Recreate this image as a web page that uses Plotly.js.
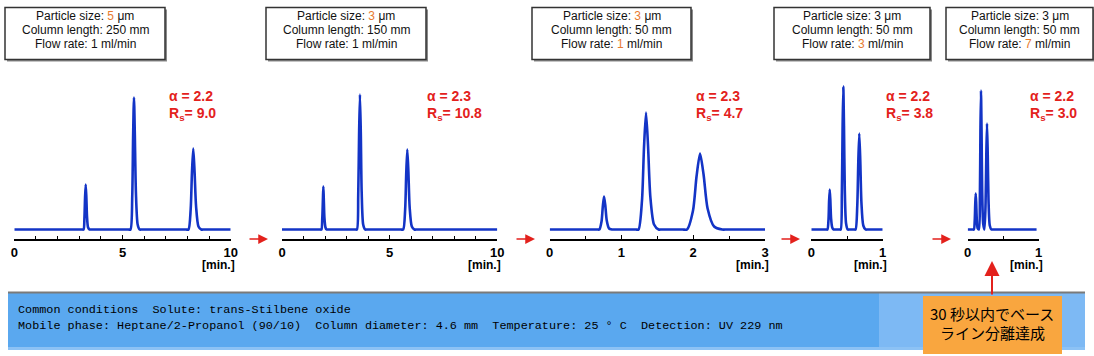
<!DOCTYPE html>
<html><head><meta charset="utf-8">
<script src="https://cdn.plot.ly/plotly-3.0.1.min.js"></script>
<style>html,body{margin:0;padding:0;background:#fff}#chart{width:1094px;height:356px}</style>
</head><body><div id="chart"></div>
<script>
// ---- data (time in min, signal in arbitrary units) ----
const t1 = [0, 3.12,3.20,3.24,3.27,3.30,3.33,3.36,3.41,3.48,3.56, 5.27,5.37,5.45,5.49,5.53,5.57,5.62,5.70,5.79,5.90, 7.93,8.05,8.15,8.21,8.27,8.33,8.40,8.51,8.64,8.78, 10];
const y1 = [0, 0,0,11,32,45,32,13,2,0,0, 0,0,33,92,132,95,37,5,0,0, 0,0,20,57,81,58,23,3,0,0, 0];
const t2 = [0, 1.76,1.83,1.87,1.90,1.92,1.94,1.97,2.02,2.07,2.14, 3.39,3.48,3.54,3.58,3.62,3.66,3.70,3.77,3.86,3.96, 5.52,5.63,5.72,5.77,5.82,5.87,5.93,6.03,6.15,6.28, 10];
const y2 = [0, 0,0,11,30,43,31,12,2,0,0, 0,0,34,95,135,97,38,5,0,0, 0,0,20,56,80,58,22,3,0,0, 0];
const t3 = [0, 0.66,0.692,0.722,0.740,0.757,0.775,0.795,0.827,0.867,0.90, 1.20,1.238,1.286,1.314,1.342,1.370,1.402,1.454,1.518,1.56, 1.85,1.913,1.997,2.046,2.095,2.144,2.200,2.291,2.403,2.47, 3];
const y3 = [0, 0,0,8,23,33,24,9,1,0,0, 0,0,29,82,117,84,33,5,0,0, 0,0,19,53,76,55,21,3,0,0, 0];
const t4 = [0, 0.21,0.226,0.241,0.249,0.258,0.267,0.277,0.293,0.313,0.33, 0.395,0.412,0.428,0.438,0.448,0.458,0.469,0.487,0.510,0.53, 0.60,0.620,0.644,0.658,0.672,0.686,0.702,0.728,0.760,0.785, 1];
const y4 = [0, 0,0,10,28,40,29,11,2,0,0, 0,0,36,100,143,103,40,6,0,0, 0,0,24,67,96,69,27,4,0,0, 0];
const t5 = [0, 0.07,0.087,0.099,0.106,0.113,0.120,0.128,0.141, 0.158,0.172,0.179,0.187,0.195,0.204,0.218, 0.236,0.252,0.262,0.272,0.282,0.293,0.311,0.334,0.355, 0.97];
const y5 = [0, 0,0,9,25,36,26,10,1, 0,35,97,139,100,39,6, 0,27,74,106,76,30,4,0,0, 0];

const xMax = [10, 10, 3, 1, 1];
const majorTicks = [[0,5,10],[0,5,10],[0,1,2,3],[0,1],[0,1]];
const minorStep = [1, 1, 0.5, 0.5, 0.5];
const particleSize = ['5','3','3','3','3'];
const columnLength = ['250','150','50','50','50'];
const flowRate = ['1','1','1','3','7'];
const particleHighlight = [true, true, true, false, false];
const flowHighlight = [false, false, true, true, true];
const alphaVals = ['2.2','2.3','2.3','2.2','2.2'];
const rsVals = ['9.0','10.8','4.7','3.8','3.0'];
const unitLabel = '[min.]';
const commonLine1 = 'Common conditions  Solute: trans-Stilbene oxide';
const commonLine2 = 'Mobile phase: Heptane/2-Propanol (90/10)  Column diameter: 4.6 mm  Temperature: 25 ° C  Detection: UV 229 nm';
const noteLines = ['30 秒以内でベース', 'ライン分離達成'];

// ---- geometry (pixels) ----
const W = 1094, H = 356;
const px = x => x / W, py = y => 1 - y / H;
const axisPx = [[14.3,230.7],[282,497.3],[549.7,765],[811.3,882.7],[967.7,1038.7]];
const plotTop = 80, plotBottom = 239;
const boxPx = [[5,165],[266,426],[532,691],[774,930],[946,1093]];
const statX = [167, 425, 694, 884, 1028];
const arrowTips = [268, 535, 800, 951];

const SANS = 'Liberation Sans, Arial, sans-serif';
const LINE = '#1334c6', RED = '#e3211c', ORANGE = '#e87b2f';

const ts = [t1,t2,t3,t4,t5], ys = [y1,y2,y3,y4,y5];
const traces = [], shapes = [], annotations = [];
const layout = {
  width: W, height: H, margin: {l:0, r:0, t:0, b:0},
  paper_bgcolor: '#fff', plot_bgcolor: 'rgba(0,0,0,0)', showlegend: false
};

for (let i = 0; i < 5; i++) {
  const sx = i === 0 ? '' : String(i + 1);
  traces.push({x: ts[i], y: ys[i], xaxis: 'x' + sx, yaxis: 'y' + sx, type: 'scatter', mode: 'lines',
    line: {color: LINE, width: 2.6, shape: 'spline', smoothing: 0.7}, hoverinfo: 'skip'});
  layout['xaxis' + sx] = {
    domain: [px(axisPx[i][0]), px(axisPx[i][1])], range: [0, xMax[i]], anchor: 'y' + sx,
    showline: true, linecolor: '#000', linewidth: 1.5, showgrid: false, zeroline: false,
    tickvals: majorTicks[i], ticktext: majorTicks[i].map(String), ticks: 'inside', ticklen: 4,
    tickwidth: 1, tickcolor: '#000', ticklabelstandoff: 1,
    minor: {dtick: minorStep[i], tick0: 0, ticks: 'inside', ticklen: 3, tickcolor: '#000', tickwidth: 1, showgrid: false},
    tickfont: {family: SANS, size: 13, color: '#000', weight: 'bold'}, fixedrange: true
  };
  layout['yaxis' + sx] = {
    domain: [py(plotBottom), py(plotTop)], range: [-9.5, 149.5], anchor: 'x' + sx,
    visible: false, fixedrange: true
  };
  annotations.push({xref:'paper', yref:'paper', x: px(axisPx[i][1] + 6), y: py(265), xanchor:'right', yanchor:'middle',
    text: unitLabel, showarrow:false, font:{family:SANS, size:12, color:'#000', weight:'bold'}});
  annotations.push({xref:'paper', yref:'paper', x: px(statX[i]), y: py(96), xanchor:'left', yanchor:'middle',
    text: 'α = ' + alphaVals[i], showarrow:false, font:{family:SANS, size:14, color:RED, weight:'bold'}});
  annotations.push({xref:'paper', yref:'paper', x: px(statX[i]), y: py(114), xanchor:'left', yanchor:'middle',
    text: 'R<sub>s</sub>= ' + rsVals[i], showarrow:false, font:{family:SANS, size:14, color:RED, weight:'bold'}});
  const [bl, br] = boxPx[i];
  shapes.push({type:'rect', xref:'paper', yref:'paper', x0:px(bl+2), x1:px(br+2), y0:py(61.5), y1:py(9.5),
    fillcolor:'#8a8a8a', line:{width:0}});
  shapes.push({type:'rect', xref:'paper', yref:'paper', x0:px(bl), x1:px(br), y0:py(59.5), y1:py(7.5),
    fillcolor:'#fff', line:{color:'#333', width:1.5}});
  const cx = px((bl + br) / 2);
  const hl = v => '<span style="color:' + ORANGE + '">' + v + '</span>';
  const lines = [
    'Particle size: ' + (particleHighlight[i] ? hl(particleSize[i]) : particleSize[i]) + ' μm',
    'Column length: ' + columnLength[i] + ' mm',
    'Flow rate: ' + (flowHighlight[i] ? hl(flowRate[i]) : flowRate[i]) + ' ml/min'
  ];
  const ly = [16, 30, 43.8];
  lines.forEach((s, k) => annotations.push({xref:'paper', yref:'paper', x: cx, y: py(ly[k]), xanchor:'center', yanchor:'middle',
    text: s, showarrow:false, font:{family:SANS, size:12, color:'#111'}}));
}

arrowTips.forEach(x => annotations.push({xref:'paper', yref:'paper', x: px(x), y: py(239), ax: -20, ay: 0,
  text:'', showarrow:true, arrowhead:2, arrowsize:1.3, arrowwidth:1.5, arrowcolor:RED, standoff:0}));

shapes.push({type:'rect', xref:'paper', yref:'paper', x0:px(8), x1:px(1085), y0:py(350), y1:py(292),
  fillcolor:'#5aa8ef', line:{width:0}});
shapes.push({type:'rect', xref:'paper', yref:'paper', x0:px(879), x1:px(1085), y0:py(350), y1:py(292),
  fillcolor:'#7db9f4', line:{width:0}});
shapes.push({type:'rect', xref:'paper', yref:'paper', x0:px(8), x1:px(1085), y0:py(350), y1:py(347),
  fillcolor:'#8cc2f5', line:{width:0}});
shapes.push({type:'line', xref:'paper', yref:'paper', x0:px(8), x1:px(1085), y0:py(292.5), y1:py(292.5),
  line:{color:'#7a7a7a', width:2}});
shapes.push({type:'rect', xref:'paper', yref:'paper', x0:px(923), x1:px(1062), y0:py(354), y1:py(296),
  fillcolor:'#f9a63f', line:{width:0}});

const MONO = 'Liberation Mono, DejaVu Sans Mono, monospace';
annotations.push({xref:'paper', yref:'paper', x: px(16), y: py(309.8), xanchor:'left', yanchor:'middle',
  text: commonLine1, showarrow:false, font:{family:MONO, size:11.8, color:'#000'}});
annotations.push({xref:'paper', yref:'paper', x: px(16), y: py(325.6), xanchor:'left', yanchor:'middle',
  text: commonLine2, showarrow:false, font:{family:MONO, size:11.8, color:'#000'}});
const noteY = [313.6, 332];
noteLines.forEach((s, k) => annotations.push({xref:'paper', yref:'paper', x: px(992), y: py(noteY[k]), xanchor:'center', yanchor:'middle',
  text: s, showarrow:false, font:{family:'Noto Sans CJK JP, sans-serif', size:15, color:'#000'}}));

annotations.push({xref:'paper', yref:'paper', x: px(992), y: py(261), ax: 0, ay: 35,
  text:'', showarrow:true, arrowhead:2, arrowsize:1.5, arrowwidth:2, arrowcolor:RED, standoff:0});

layout.shapes = shapes;
layout.annotations = annotations;
Plotly.newPlot('chart', traces, layout, {displayModeBar:false, staticPlot:true});
</script></body></html>
